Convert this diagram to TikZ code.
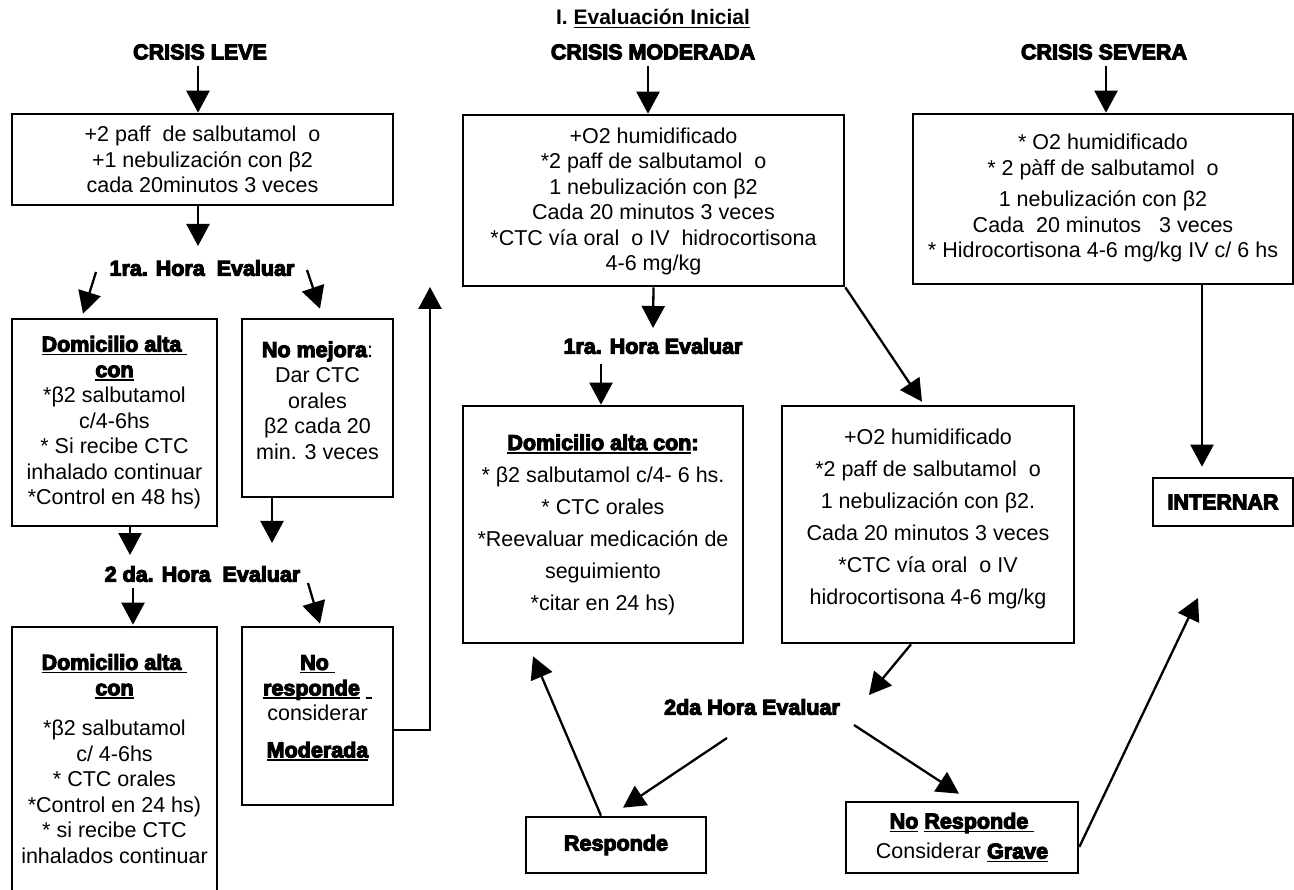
\documentclass[tikz,border=0pt]{standalone}
\usepackage{fontspec}
\setmainfont{Liberation Sans}
\newfontfamily\heavyfont{Liberation Sans Bold}[FakeBold=5]
\newfontfamily\titlefont{Liberation Sans Bold}
\newsavebox\ulbox
\newcommand\uln[1]{\leavevmode\sbox\ulbox{#1}\rlap{\rule[-3.5pt]{\wd\ulbox}{1.5pt}}\usebox\ulbox}
\usetikzlibrary{arrows.meta,calc}
\newcommand\bodysize{\fontsize{21.5}{25.5}\selectfont}
\newcommand\bodywide{\fontsize{21.5}{32}\selectfont}
\newcommand\hv{\heavyfont\fontsize{21.5}{25.5}\selectfont}
\tikzset{
  box/.style={draw, line width=2.6pt, align=center, inner sep=0pt, font=\bodysize},
  hd/.style={font=\hv, inner sep=2pt},
  arr/.style={line width=2.3pt, -{Triangle[length=22pt,width=23pt]}},
}
\begin{document}
\begin{tikzpicture}[x=1pt,y=-1pt]
\fill[white] (0,0) rectangle (1294,890);
\useasboundingbox (0,0) rectangle (1294,890);

% titles
\node[font=\titlefont\fontsize{21}{24}\selectfont, inner sep=2pt] (T) at (653,19) {I. \uln{Evaluación Inicial}};
\node[hd] (CL) at (200,52) {CRISIS LEVE};
\node[hd] (CM) at (653,52) {CRISIS MODERADA};
\node[hd] (CS) at (1104,52) {CRISIS SEVERA};

% left column
\node[box, minimum width=381pt, minimum height=91pt] (b1) at (202.5,159.5)
  {+2 paff~ de salbutamol~ o\\+1 nebulización con β2\\cada 20minutos 3 veces};
\node[hd] (h1) at (202,268) {1ra. Hora~ Evaluar};
\node[box, minimum width=205pt, minimum height=207pt] (b2) at (114.5,422.5)
  {{\hv\uln{Domicilio alta\ }}\\{\hv\uln{con}}\\{}*β2 salbutamol\\c/4-6hs\\{}* Si recibe CTC\\inhalado continuar\\{}*Control en 48 hs)};
\node[box, minimum width=151pt, minimum height=178pt] (b3) at (317.5,408)
  {{\hv No mejora}:\\Dar CTC\\orales\\β2 cada 20\\min. 3 veces\\[-10pt]\mbox{}};
\node[hd] (h2) at (202.5,574) {2 da. Hora~ Evaluar};
\node[box, minimum width=205pt, minimum height=273pt] (b5) at (114.5,763.5)
  {{\hv\uln{Domicilio alta\ }}\\{\hv\uln{con}}\\[15pt]{}*β2 salbutamol\\c/ 4-6hs\\{}* CTC orales\\{}*Control en 24 hs)\\{}* si recibe CTC\\inhalados continuar\\[-16pt]\mbox{}};
\node[box, minimum width=151pt, minimum height=178pt] (b4) at (317.5,716)
  {{\hv\uln{No\ }}\\{\hv\uln{responde}}\ \uln{\hspace{6pt}}\\considerar\\[11pt]{\hv\uln{Moderada}}\\[-6pt]\mbox{}};
\coordinate (mup) at (430,287);

% middle column
\node[box, minimum width=381pt, minimum height=171pt] (b6) at (653.5,200.5)
  {\mbox{}\\[-8pt]+O2 humidificado\\{}*2 paff de salbutamol~ o\\1 nebulización con β2\\Cada 20 minutos 3 veces\\{}*CTC vía oral~ o IV~ hidrocortisona\\4-6 mg/kg};
\node[hd] (h3) at (653,346) {1ra. Hora Evaluar};
\node[box, minimum width=280pt, minimum height=237pt, font=\bodywide] (b7) at (603,524.5)
  {{\hv\uln{Domicilio alta con}:}\\{}* β2 salbutamol c/4- 6 hs.\\{}* CTC orales\\{}*Reevaluar medicación de\\seguimiento\\{}*citar en 24 hs)};
\node[box, minimum width=292pt, minimum height=237pt, font=\bodywide] (b8) at (928,524.5)
  {+O2 humidificado\\{}*2 paff de salbutamol~ o\\1 nebulización con β2.\\Cada 20 minutos 3 veces\\{}*CTC vía oral~ o IV\\hidrocortisona 4-6 mg/kg\\[-16pt]\mbox{}};
\node[hd] (h4) at (752,707) {2da Hora Evaluar};
\node[box, minimum width=180pt, minimum height=56pt] (b10) at (616,845) {\hv Responde};
\node[box, minimum width=232pt, minimum height=71pt, font=\fontsize{21.5}{30}\selectfont] (b9) at (962,837.5)
  {{\hv\uln{No}\ \uln{Responde\ }}\\Considerar {\hv\uln{Grave}}};

% right column
\node[box, minimum width=380pt, minimum height=170pt] (b11) at (1103,199)
  {\mbox{}\\[-12pt]{}* O2 humidificado\\{}* 2 pàff de salbutamol~ o\\[6pt]1 nebulización con β2\\Cada~ 20 minutos~~ 3 veces\\{}* Hidrocortisona 4-6 mg/kg IV c/ 6 hs};
\node[box, minimum width=140pt, minimum height=48pt] (b12) at (1223,502) {\hv INTERNAR};
\coordinate (pint) at (1198,598);

% connectors
\draw[arr] ($(CL)+(-2,14)$) -- ($(b1.north)+(-4.5,0)$);
\draw[arr] ($(b1.south)+(-4.5,0)$) -- ($(h1)+(-4,-22)$);
\draw[arr] ($(h1)+(-106,4)$) -- ($(b2.north)+(-31.5,-4)$);
\draw[arr] ($(h1)+(105,2)$) -- ($(b3.north)+(2.5,-9)$);
\draw[arr] ($(b2.south)+(15.5,0)$) -- ($(h2)+(-72.5,-19)$);
\draw[arr] ($(b3.south)+(-45.5,0)$) -- ($(h2)+(69.5,-31)$);
\draw[arr] ($(h2)+(-69.5,14)$) -- ($(b5.north)+(18.5,-1)$);
\draw[arr] ($(h2)+(105.5,9)$) -- ($(b4.north)+(2.5,-2)$);
\draw[arr] ($(b4.east)+(0,14)$) -| (mup);

\draw[arr] ($(CM)+(-5,14)$) -- ($(b6.north)+(-5.5,0)$);
\draw[arr] (b6.south) -- ($(h3)+(0,-18)$);
\draw[arr] ($(h3)+(-52,18)$) -- ($(b7.north)+(-2,0)$);
\draw[arr] (b6.south east) -- ($(b8.north)+(-6,-3)$);
\draw[arr] ($(b8.south)+(-17,0)$) -- ($(h4)+(117,-12)$);
\draw[arr] ($(h4)+(102,18)$) -- ($(b9.north)+(-3,-7)$);
\draw[arr] ($(h4)+(-25,31)$) -- ($(b10.north)+(7,-8)$);
\draw[arr] ($(b10.north)+(-15,0)$) -- ($(b7.south)+(-70,12)$);
\draw[arr] ($(b9.east)+(0,9.5)$) -- (pint);

\draw[arr] ($(CS)+(2,14)$) -- ($(b11.north)+(3,0)$);
\draw[arr] ($(b11.south)+(99,0)$) -- ($(b12.north)+(-21,-10)$);
\end{tikzpicture}
\end{document}
